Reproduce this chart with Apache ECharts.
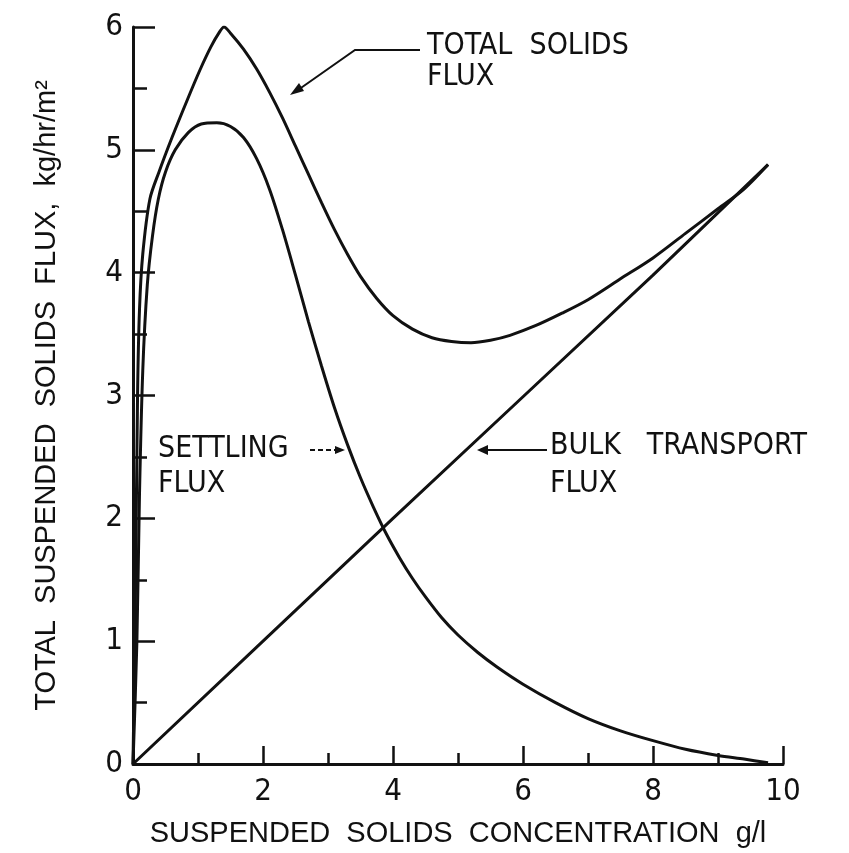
<!DOCTYPE html>
<html>
<head>
<meta charset="utf-8">
<script src="https://cdn.jsdelivr.net/npm/echarts@6/dist/echarts.min.js"></script>
<style>
html, body { margin: 0; background: #fff; }
#chart { width: 849px; height: 853px; }
</style>
</head>
<body>
<div id="chart"></div>
<script>
// values: [concentration g/l, flux kg/hr/m2]
var totalFlux = [
    [0, 0], [0.04, 1.5], [0.07, 3.0], [0.1, 3.7], [0.15, 4.15], [0.26, 4.6],
    [0.4, 4.82], [0.6, 5.1], [0.83, 5.4], [1.03, 5.65], [1.2, 5.84], [1.32, 5.95],
    [1.4, 6.0], [1.5, 5.95], [1.7, 5.82], [1.9, 5.66], [2.1, 5.47], [2.3, 5.26],
    [2.5, 5.03], [2.7, 4.8], [2.9, 4.57], [3.1, 4.35], [3.3, 4.15], [3.5, 3.97],
    [3.75, 3.79], [4.0, 3.65], [4.3, 3.54], [4.6, 3.47], [4.9, 3.44], [5.2, 3.43],
    [5.5, 3.45], [5.8, 3.49], [6.2, 3.57], [6.6, 3.67], [7.0, 3.78], [7.5, 3.95],
    [8.0, 4.12], [8.5, 4.32], [9.0, 4.52], [9.4, 4.68], [9.77, 4.88]
];
var settlingFlux = [
    [0, 0], [0.06, 1.0], [0.1, 2.2], [0.15, 3.2], [0.22, 3.9], [0.3, 4.3],
    [0.39, 4.6], [0.5, 4.82], [0.65, 5.0], [0.85, 5.14], [1.05, 5.21], [1.29, 5.22],
    [1.5, 5.19], [1.7, 5.1], [1.9, 4.93], [2.1, 4.68], [2.3, 4.35], [2.5, 3.98],
    [2.7, 3.6], [2.9, 3.24], [3.1, 2.9], [3.3, 2.6], [3.5, 2.33], [3.7, 2.09],
    [3.9, 1.87], [4.1, 1.68], [4.3, 1.51], [4.5, 1.36], [4.75, 1.19], [5.0, 1.05],
    [5.3, 0.91], [5.6, 0.79], [6.0, 0.65], [6.5, 0.5], [7.0, 0.37], [7.5, 0.27],
    [8.0, 0.19], [8.5, 0.12], [9.0, 0.07], [9.4, 0.04], [9.77, 0.01]
];
var bulkFlux = [
    [0, 0], [2, 1.0], [4, 2.0], [6, 2.99], [8, 3.98], [9.77, 4.88]
];

var FONT = '"Liberation Sans Narrow", "DejaVu Sans Condensed", "Liberation Sans", sans-serif';
var WIDE = '"Liberation Sans", "DejaVu Sans", sans-serif';
var INK = '#111';

var myChart = echarts.init(document.getElementById('chart'));

function curve(name, data, smooth) {
    return {
        name: name,
        type: 'line',
        data: data,
        showSymbol: false,
        smooth: smooth,
        lineStyle: { color: INK, width: 3 },
        animation: false
    };
}

function label(text, x, y) {
    return {
        type: 'text',
        style: { text: text, x: x, y: y, fill: INK, font: '30px ' + FONT, verticalAlign: 'top' }
    };
}

myChart.setOption({
    backgroundColor: '#fff',
    animation: false,
    textStyle: { fontFamily: FONT, color: INK },
    grid: { left: 133, right: 66, top: 27, bottom: 86 },
    xAxis: {
        type: 'value',
        min: 0,
        max: 10,
        interval: 2,
        name: 'SUSPENDED  SOLIDS  CONCENTRATION  g/l',
        nameLocation: 'middle',
        nameGap: 55,
        nameTextStyle: { fontSize: 29, color: INK, fontFamily: WIDE },
        axisLine: { lineStyle: { color: INK, width: 3 } },
        axisTick: { inside: true, length: 18, lineStyle: { color: INK, width: 2.5 } },
        minorTick: { show: true, splitNumber: 2, length: 11, lineStyle: { color: INK, width: 2.5 } },
        axisLabel: { fontSize: 31, color: INK, margin: 12 },
        splitLine: { show: false }
    },
    yAxis: {
        type: 'value',
        min: 0,
        max: 6,
        interval: 1,
        name: 'TOTAL  SUSPENDED  SOLIDS  FLUX,  kg/hr/m²',
        nameLocation: 'middle',
        nameGap: 72,
        nameTextStyle: { fontSize: 29, color: INK, fontFamily: WIDE },
        axisLine: { lineStyle: { color: INK, width: 3 } },
        axisTick: { inside: true, length: 22, lineStyle: { color: INK, width: 2.5 } },
        minorTick: { show: true, splitNumber: 2, length: 14, lineStyle: { color: INK, width: 2.5 } },
        axisLabel: { fontSize: 31, color: INK, margin: 10 },
        splitLine: { show: false }
    },
    series: [
        curve('Total solids flux', totalFlux, 0.3),
        curve('Settling flux', settlingFlux, 0.3),
        curve('Bulk transport flux', bulkFlux, false)
    ],
    graphic: [
        label('TOTAL  SOLIDS', 427, 31),
        label('FLUX', 427, 62),
        label('SETTLING', 158, 434),
        label('FLUX', 158, 469),
        label('BULK   TRANSPORT', 550, 431),
        label('FLUX', 550, 469),
        // arrows
        { type: 'polyline', shape: { points: [[420, 50], [355, 50], [298, 90]] },
          style: { stroke: INK, lineWidth: 2, fill: null } },
        { type: 'polygon', shape: { points: [[290, 95], [304, 91], [299, 83]] },
          style: { fill: INK } },
        { type: 'line', shape: { x1: 310, y1: 450, x2: 336, y2: 450 },
          style: { stroke: INK, lineWidth: 2, lineDash: [5, 3] } },
        { type: 'polygon', shape: { points: [[345, 450], [335, 446], [335, 454]] },
          style: { fill: INK } },
        { type: 'line', shape: { x1: 547, y1: 450, x2: 486, y2: 450 },
          style: { stroke: INK, lineWidth: 2 } },
        { type: 'polygon', shape: { points: [[477, 450], [488, 445], [488, 455]] },
          style: { fill: INK } }
    ]
});
</script>
</body>
</html>
